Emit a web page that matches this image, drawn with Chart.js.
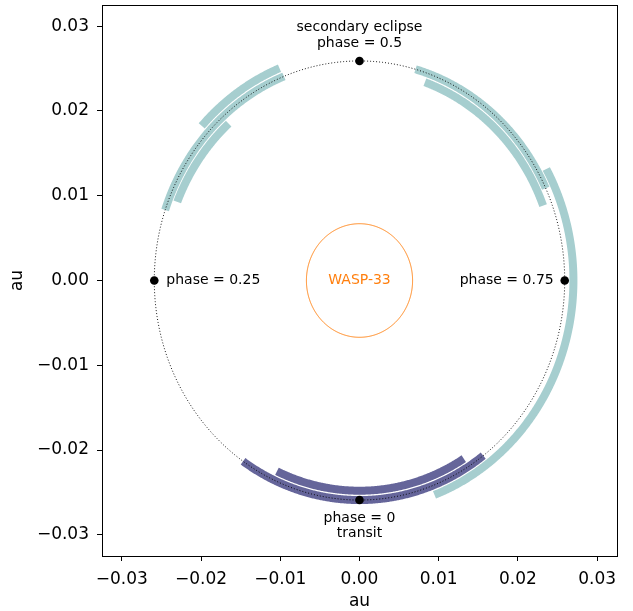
<!DOCTYPE html>
<html>
<head>
<meta charset="utf-8">
<script src="https://cdn.jsdelivr.net/npm/chart.js@4.4.1/dist/chart.umd.min.js"></script>
<style>
  html, body { margin: 0; padding: 0; background: #fff; }
  #orbit { display: block; }
</style>
</head>
<body>
<canvas id="orbit" width="633" height="611"></canvas>
<script>
// orbit geometry, in au
const semiMajor = 0.0259;
const starRadius = 0.0067;
const axisLimit = 0.0325;
const tickValues = [-0.03, -0.02, -0.01, 0, 0.01, 0.02, 0.03];

// phase coverage of each observation, [start, end], grouped by ring
const tealOuter = [[0.368, 0.439], [0.669, 0.943]];
const tealMiddle = [[0.302, 0.440], [0.544, 0.681]];
const tealInner = [[0.311, 0.384], [0.554, 0.692]];
const navyMiddle = [[-0.103, 0.096]];
const navyInner = [[-0.089, 0.069]];

const innerRing = 0.0248;
const middleRing = 0.0259;
const outerRing = 0.0270;

// marked phases and what gets written next to them
const markedPhases = [0, 0.25, 0.5, 0.75];
const phaseLabels = [['phase = 0', 'transit'], ['phase = 0.25'], ['secondary eclipse', 'phase = 0.5'], ['phase = 0.75']];
const starName = 'WASP-33';

const teal = '#a6cecf';
const navy = '#65659a';
const starColor = '#ff7f0e';
const fontFamily = '"DejaVu Sans", Verdana, sans-serif';

// phase 0 sits below the star, phase 0.25 on the left
function phaseToXY(phase, r) {
    const theta = -Math.PI / 2 - 2 * Math.PI * phase;
    return { x: r * Math.cos(theta), y: r * Math.sin(theta) };
}

function arcPoints(start, end, r) {
    const n = Math.max(2, Math.ceil(Math.abs(end - start) * 720));
    const pts = [];
    for (let i = 0; i <= n; i++) {
        pts.push(phaseToXY(start + (end - start) * i / n, r));
    }
    return pts;
}

// a small tension keeps chart.js off its fast path, which would
// collapse the near-vertical parts of the arcs into steps
function arcSets(ranges, r, color) {
    return ranges.map(([a, b]) => ({
        data: arcPoints(a, b, r),
        showLine: true,
        borderColor: color,
        borderWidth: 8,
        borderCapStyle: 'butt',
        tension: 0.2,
        pointRadius: 0,
        fill: false,
        order: 3
    }));
}

function tickText(v) {
    const s = Math.abs(v).toFixed(2);
    return v < -1e-9 ? '\u2212' + s : s;
}

const datasets = [
    {
        data: markedPhases.map(p => phaseToXY(p, semiMajor)),
        showLine: false,
        pointRadius: 4.3,
        pointBackgroundColor: '#000',
        pointBorderWidth: 0,
        order: 0
    },
    {
        data: arcPoints(0, 1, semiMajor),
        showLine: true,
        borderColor: '#000',
        borderWidth: 0.9,
        borderDash: [1, 2],
        pointRadius: 0,
        fill: false,
        order: 1
    },
    {
        data: arcPoints(0, 1, starRadius),
        showLine: true,
        borderColor: starColor,
        borderWidth: 1,
        tension: 0.2,
        pointRadius: 0,
        fill: false,
        order: 2
    },
    ...arcSets(tealOuter, outerRing, teal),
    ...arcSets(tealMiddle, middleRing, teal),
    ...arcSets(tealInner, innerRing, teal),
    ...arcSets(navyMiddle, middleRing, navy),
    ...arcSets(navyInner, innerRing, navy)
];

// frame around the plot area plus the text annotations
const annotations = {
    id: 'annotations',
    afterDatasetsDraw(chart) {
        const { ctx, chartArea: area, scales: { x, y } } = chart;
        ctx.save();
        ctx.strokeStyle = '#000';
        ctx.lineWidth = 1;
        ctx.strokeRect(Math.round(area.left) + 0.5, Math.round(area.top) + 0.5,
            Math.round(area.right - area.left), Math.round(area.bottom - area.top));

        ctx.font = '14px ' + fontFamily;
        ctx.textBaseline = 'middle';
        ctx.fillStyle = starColor;
        ctx.textAlign = 'center';
        ctx.fillText(starName, x.getPixelForValue(0), y.getPixelForValue(0));

        ctx.fillStyle = '#000';
        markedPhases.forEach((p, i) => {
            const pos = phaseToXY(p, semiMajor);
            const px = x.getPixelForValue(pos.x);
            const py = y.getPixelForValue(pos.y);
            const lines = phaseLabels[i];
            if (p === 0) {
                ctx.textAlign = 'center';
                lines.forEach((t, k) => ctx.fillText(t, px, py + 18 + k * 15.5));
            } else if (p === 0.5) {
                ctx.textAlign = 'center';
                lines.forEach((t, k) => ctx.fillText(t, px, py - 18 - (lines.length - 1 - k) * 15.5));
            } else if (p === 0.25) {
                ctx.textAlign = 'left';
                ctx.fillText(lines[0], px + 12, py);
            } else {
                ctx.textAlign = 'right';
                ctx.fillText(lines[0], px - 11, py);
            }
        });
        ctx.restore();
    }
};

const tickFont = { size: 17, family: fontFamily };
const titleFont = { size: 17, family: fontFamily, lineHeight: 1.1 };

new Chart(document.getElementById('orbit'), {
    type: 'scatter',
    data: { datasets: datasets },
    options: {
        responsive: false,
        animation: false,
        devicePixelRatio: 1,
        layout: { padding: { top: 5, right: 16, left: 0, bottom: 0 } },
        plugins: { legend: { display: false }, tooltip: { enabled: false } },
        scales: {
            x: {
                type: 'linear',
                min: -axisLimit,
                max: axisLimit,
                afterBuildTicks: s => { s.ticks = tickValues.map(v => ({ value: v })); },
                afterFit: s => { s.height = 55; s.paddingLeft = 0; s.paddingRight = 0; },
                border: { display: false },
                grid: { drawOnChartArea: false, drawTicks: true, tickLength: 5, tickColor: '#000', tickWidth: 1 },
                ticks: { color: '#000', font: tickFont, padding: 8, maxRotation: 0, autoSkip: false, callback: tickText },
                title: { display: true, text: 'au', color: '#000', font: titleFont, padding: { top: 0, bottom: 0 } }
            },
            y: {
                type: 'linear',
                min: -axisLimit,
                max: axisLimit,
                afterBuildTicks: s => { s.ticks = tickValues.map(v => ({ value: v })); },
                afterFit: s => { s.width = 102; s.paddingTop = 0; s.paddingBottom = 0; },
                border: { display: false },
                grid: { drawOnChartArea: false, drawTicks: true, tickLength: 5, tickColor: '#000', tickWidth: 1 },
                ticks: { color: '#000', font: tickFont, padding: 8, autoSkip: false, callback: tickText },
                title: { display: true, text: 'au', color: '#000', font: titleFont, padding: { top: 8, bottom: 0 } }
            }
        }
    },
    plugins: [annotations]
});
</script>
</body>
</html>
